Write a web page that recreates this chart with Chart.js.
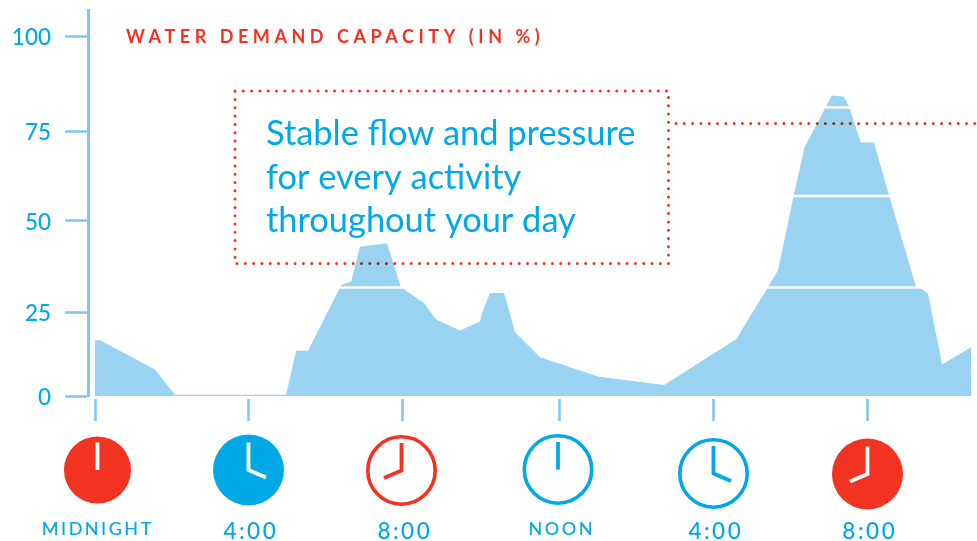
<!DOCTYPE html>
<html>
<head>
<meta charset="utf-8">
<title>Water demand capacity</title>
<script src="https://cdn.jsdelivr.net/npm/chart.js@4"></script>
<style>
  html, body { margin: 0; background: #fff; }
  canvas { display: block; }
</style>
</head>
<body>
<canvas id="demand-graph" width="977" height="541"></canvas>
<script>
// hours since midnight and demand in %
const hours = [0, 0.13, 1.57, 2.09, 4.99, 5.25, 5.56, 6.39, 6.42, 6.68, 6.91, 7.61, 7.97, 8.03, 8.56, 8.87,
    9.48, 9.99, 10.04, 10.24, 10.6, 10.88, 11.52, 13.01, 14.73, 16.6, 17.43, 17.69, 18.1, 18.38, 18.92,
    19.09, 19.4, 19.53, 19.84, 20.18, 20.57, 21.27, 21.38, 21.58, 21.95, 22.7]
const demand = [16.5, 16.6, 7.9, 0.4, 0.4, 13.5, 13.5, 31.7, 32.4, 33.4, 42.9, 43.9, 31.9, 31.4, 27.5, 22.8,
    19.5, 22.2, 24.7, 30.2, 30.2, 19, 11.5, 5.8, 3.3, 16.9, 31.9, 36.5, 57.3, 70.7, 81.2,
    84.4, 84.1, 81.6, 71.9, 71.9, 57.3, 32, 31.5, 30.2, 9.4, 14.5]

// the white bands cut across the peaks
const bandFrom = [6.3, 17.35, 18.05, 18.9]
const bandTo = [8.05, 21.4, 20.6, 19.55]
const bandLevel = [31.7, 31.7, 57, 81.3]

const yTicks = [0, 25, 50, 75, 100]
const xTicks = [0, 4, 8, 12, 16, 20]
const xLabels = ['MIDNIGHT', '4:00', '8:00', 'NOON', '4:00', '8:00']
const clockHands = [0, 4, 8, 0, 4, 8]
const clockFaces = ['solid', 'solid', 'ring', 'ring', 'ring', 'solid']
const clockColors = ['red', 'blue', 'red', 'blue', 'blue', 'red']
const clockShift = [[2.5, 0], [0.5, 0], [-0.5, 0.5], [-1, -0.5], [0.5, 3.5], [0.5, 4]]

const noteLines = ['Stable flow and pressure', 'for every activity', 'throughout your day']
const title = 'WATER DEMAND CAPACITY (IN %)'

const RED = '#f23322'
const BLUE = '#00a9e6'
const AXIS = '#7cc8f0'
const AREA = '#9ad2f2'
const FONT = 'Lato, "Open Sans", sans-serif'

// the printed axes are not quite even, so ticks sit on hand placed stops
class StopScale extends Chart.LinearScale {
    static id = 'stops'
    static defaults = {}

    getPixelForValue(value) {
        const stops = this.options.stops
        let i = 0
        while (i < stops.length - 2 && value > stops[i + 1][0]) i++
        const [v0, p0] = stops[i]
        const [v1, p1] = stops[i + 1]
        return this.getPixelForDecimal(p0 + (value - v0) / (v1 - v0) * (p1 - p0))
    }

    getPixelForTick(index) {
        return super.getPixelForTick(index) + (this.options.tickShift || 0)
    }

    // labels may hang over the plot edges, no extra room wanted for them
    getPadding() {
        return { left: 0, right: 0, top: 0, bottom: 0 }
    }

    drawLabels(area) {
        this.ctx.letterSpacing = this.options.spacing || '0px'
        super.drawLabels(area)
        this.ctx.letterSpacing = '0px'
    }
}
Chart.register(StopScale)

function dottedLine(ctx, points) {
    ctx.save()
    ctx.globalCompositeOperation = 'multiply'
    ctx.strokeStyle = RED
    ctx.lineWidth = 3
    ctx.lineCap = 'round'
    ctx.setLineDash([0, 8.3])
    ctx.beginPath()
    points.forEach((p, i) => i ? ctx.lineTo(p[0], p[1]) : ctx.moveTo(p[0], p[1]))
    ctx.stroke()
    ctx.restore()
}

const notePlugin = {
    id: 'note',
    afterDatasetsDraw(chart) {
        const ctx = chart.ctx
        dottedLine(ctx, [[235, 91], [668.5, 91], [668.5, 263.5], [235, 263.5], [235, 91]])
        dottedLine(ctx, [[676, 123.5], [977, 123.5]])

        ctx.save()
        ctx.fillStyle = RED
        ctx.font = '700 18px ' + FONT
        ctx.letterSpacing = '4.55px'
        ctx.textBaseline = 'alphabetic'
        ctx.fillText(title, 126, 43)
        ctx.restore()

        ctx.save()
        ctx.fillStyle = BLUE
        ctx.font = '400 34.4px ' + FONT
        ctx.textBaseline = 'alphabetic'
        noteLines.forEach((line, i) => ctx.fillText(line, 266, 145 + i * 43.5))
        ctx.restore()
    }
}

const clockPlugin = {
    id: 'clocks',
    afterDraw(chart) {
        const ctx = chart.ctx
        const xScale = chart.scales.x
        xTicks.forEach((tick, i) => {
            const cx = xScale.getPixelForValue(tick) + clockShift[i][0]
            const cy = 470 + clockShift[i][1]
            const color = clockColors[i] == 'red' ? RED : BLUE
            const solid = clockFaces[i] == 'solid'
            const radius = i == 0 ? 33.5 : 35.5

            ctx.save()
            ctx.beginPath()
            if (solid) {
                ctx.arc(cx, cy, radius, 0, Math.PI * 2)
                ctx.fillStyle = color
                ctx.fill()
            } else {
                ctx.arc(cx, cy, radius - 1.8, 0, Math.PI * 2)
                ctx.strokeStyle = color
                ctx.lineWidth = 3.6
                ctx.stroke()
            }

            // hands
            const side = clockHands[i] == 4 ? 1 : clockHands[i] == 8 ? -1 : 0
            ctx.beginPath()
            ctx.moveTo(cx, cy - 27.5)
            ctx.lineTo(cx, cy)
            if (side) ctx.lineTo(cx + side * 17.5, cy + 7.5)
            ctx.strokeStyle = solid ? '#fff' : color
            ctx.lineWidth = 3.8
            ctx.lineJoin = 'miter'
            ctx.stroke()
            ctx.restore()
        })
    }
}

const areaPoints = hours.map((h, i) => ({ x: h, y: demand[i] }))
const bandSets = bandFrom.map((from, i) => ({
    data: [{ x: from, y: bandLevel[i] }, { x: bandTo[i], y: bandLevel[i] }],
    borderColor: '#fff',
    borderWidth: 2.5,
    pointRadius: 0,
    fill: false,
    order: 0
}))

const ctx = document.getElementById('demand-graph').getContext('2d')
const demandChart = new Chart(ctx, {
    type: 'line',
    data: {
        datasets: [{
            data: areaPoints,
            backgroundColor: AREA,
            borderWidth: 0,
            pointRadius: 0,
            tension: 0,
            fill: 'origin',
            order: 1
        }, ...bandSets]
    },
    options: {
        responsive: false,
        animation: false,
        events: [],
        layout: { padding: { top: 10, right: 6, left: 0, bottom: 0 } },
        plugins: { legend: { display: false }, title: { display: false }, tooltip: { enabled: false } },
        scales: {
            x: {
                type: 'stops',
                min: -0.18,
                max: 22.7,
                stops: [[-0.18, 0], [0, 0.0079], [4, 0.1812], [8, 0.3556], [12, 0.5334], [16, 0.7078], [20, 0.8822], [22.7, 1]],
                spacing: '2.5px',
                tickShift: 0.8,
                afterFit: scale => { scale.height = 145 },
                afterBuildTicks: scale => { scale.ticks = xTicks.map(value => ({ value })) },
                border: { display: false },
                grid: {
                    drawOnChartArea: false,
                    tickLength: 26,
                    tickColor: AXIS,
                    tickWidth: 2.5,
                    tickBorderDash: [0, 3, 22, 100]
                },
                ticks: {
                    autoSkip: false,
                    maxRotation: 0,
                    padding: 96.5,
                    labelOffset: 2,
                    color: BLUE,
                    font: c => ({ family: FONT, size: /\d/.test(xLabels[c.index]) ? 22.5 : 18, weight: '500' }),
                    callback: (value, i) => xLabels[i]
                }
            },
            y: {
                type: 'stops',
                min: 0,
                max: 106.8,
                stops: [[0, 0], [25, 0.2176], [50, 0.4534], [75, 0.6852], [100, 0.9326], [106.8, 1]],
                afterFit: scale => { scale.width = 88 },
                afterBuildTicks: scale => { scale.ticks = yTicks.map(value => ({ value })) },
                border: { display: true, color: AXIS, width: 3 },
                grid: {
                    drawOnChartArea: false,
                    tickLength: 23,
                    tickColor: AXIS,
                    tickWidth: 2.5
                },
                ticks: {
                    padding: 14,
                    labelOffset: 1.5,
                    color: BLUE,
                    font: { family: FONT, size: 22.5, weight: '500' },
                    callback: value => String(value)
                }
            }
        }
    },
    plugins: [notePlugin, clockPlugin]
})
</script>
</body>
</html>
